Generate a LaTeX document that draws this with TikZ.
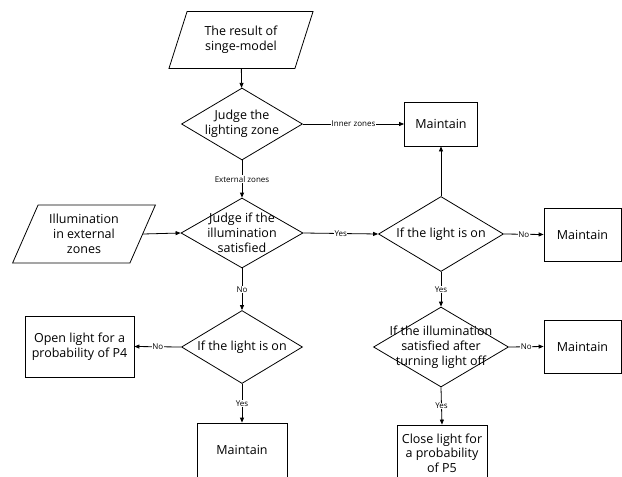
\documentclass[tikz,border=0pt]{standalone}
\usepackage{fontspec}
\setmainfont{Open Sans}
\usepackage{xcolor}
\usepackage{tikz}
\usetikzlibrary{arrows.meta,shapes.geometric}
\definecolor{ink}{RGB}{0,0,0}
\tikzset{
  io/.style={
    draw=ink, line width=0.8pt, trapezium, trapezium stretches=true,
    trapezium left angle=#1, trapezium right angle=180-#1,
    align=center, font=\fontsize{12.5}{15}\selectfont, inner sep=0pt,
  },
  io/.default=65,
  judge/.style={
    draw=ink, line width=0.8pt, diamond, inner sep=0pt,
  },
  judgetxt/.style={
    label={[align=center, font=\fontsize{12.5}{15}\selectfont]center:{#1}},
  },
  act/.style={
    draw=ink, line width=0.8pt, fill=white,
    align=center, font=\fontsize{12.5}{14.5}\selectfont, inner sep=0pt,
  },
  arr/.style={-{Triangle[length=5pt,width=4pt]}, line width=0.8pt, draw=ink},
  lbl/.style={fill=white, inner sep=0.5pt, font=\fontsize{8}{9}\selectfont},
}
\begin{document}
\begin{tikzpicture}[x=1pt,y=-1pt]
  \useasboundingbox (0,0) rectangle (622,477);

  \node[io=66, minimum width=145, minimum height=57] (res) at (241,40) {The result of\\singe-model};
  \node[judge, minimum width=121, minimum height=72,
        judgetxt={Judge the\\lighting zone}] (zone) at (242,124) {};
  \node[act, minimum width=73, minimum height=44] (keep1) at (441,124) {Maintain};
  \node[judge, minimum width=122, minimum height=70,
        judgetxt={Judge if the\\illumination\\satisfied}] (sat) at (242,233) {};
  \node[io=64, minimum width=143, minimum height=58] (illum) at (84,234) {Illumination\\in external\\zones};
  \node[judge, minimum width=125, minimum height=75,
        judgetxt={If the light is on}] (onA) at (441,234) {};
  \node[act, minimum width=77, minimum height=53] (keep2) at (582.5,234.5) {Maintain};
  \node[judge, minimum width=135, minimum height=80,
        judgetxt={If the illumination\\satisfied after\\turning light off}] (off) at (441,347) {};
  \node[act, minimum width=77, minimum height=53] (keep3) at (582.5,346.5) {Maintain};
  \node[act, minimum width=90, minimum height=56] (close) at (442,453) {Close light for\\a probability\\of P5};
  \node[judge, minimum width=121, minimum height=73,
        judgetxt={If the light is on}] (onB) at (242,347) {};
  \node[act, minimum width=109, minimum height=61] (open) at (79.5,346.5) {Open light for a\\probability of P4};
  \node[act, minimum width=90, minimum height=54] (keep4) at (242,450) {Maintain};

  \draw[arr] (res) -- (zone);
  \draw[arr] (zone.east) -- node[lbl] {Inner zones} (keep1.west);
  \draw[arr] (zone.south) -- node[lbl] {External zones} (sat.north);
  \draw[arr] (illum.east) -- (sat.west);
  \draw[arr] (sat.east) -- node[lbl] {Yes} (onA.west);
  \draw[arr] (onA.north) -- (keep1.south);
  \draw[arr] (onA.east) -- node[lbl] {No} (keep2.west);
  \draw[arr] (onA.south) -- node[lbl] {Yes} (off.north);
  \draw[arr] (off.east) -- node[lbl] {No} (keep3.west);
  \draw[arr] (off.south) -- node[lbl] {Yes} (close.north);
  \draw[arr] (sat.south) -- node[lbl] {No} (onB.north);
  \draw[arr] (onB.west) -- node[lbl] {No} (open.east);
  \draw[arr] (onB.south) -- node[lbl] {Yes} (keep4.north);
\end{tikzpicture}
\end{document}
